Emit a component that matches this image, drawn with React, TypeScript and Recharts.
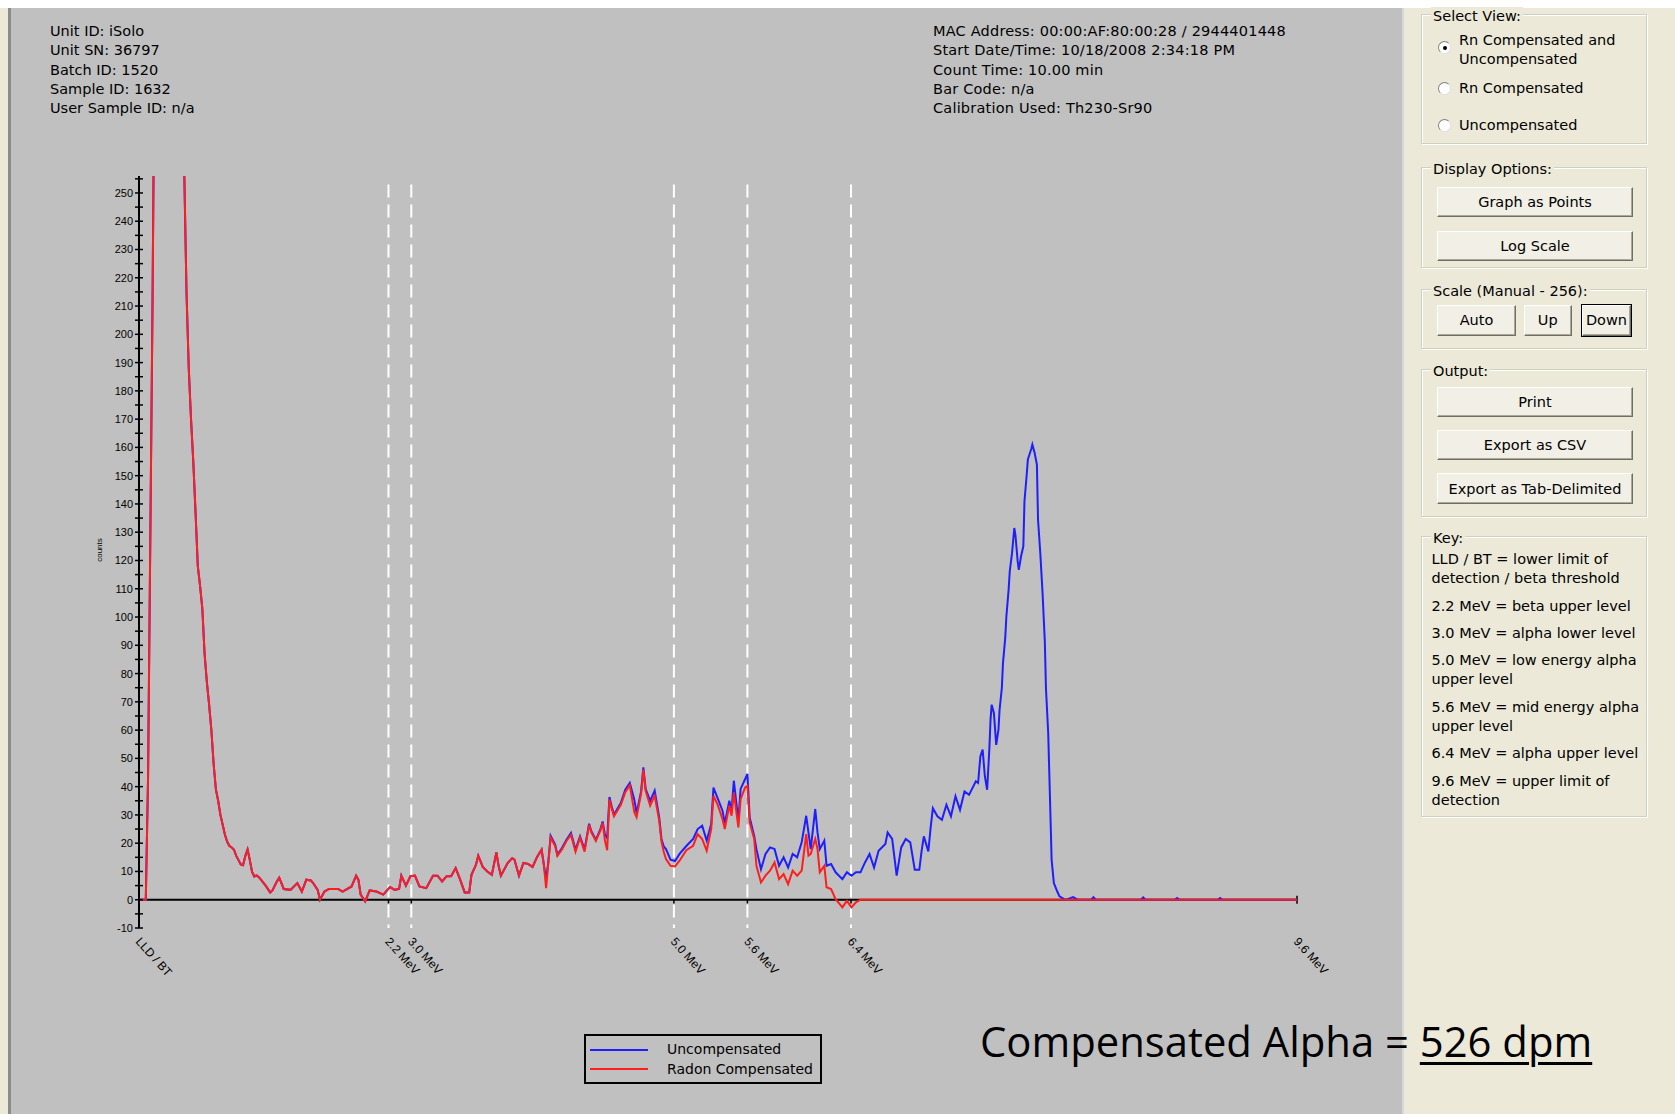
import React from "react";
import { LineChart, Line, XAxis, YAxis, ReferenceLine } from "recharts";

// channel axis: 0 = LLD / BT, 512 = 9.6 MeV
const channels = [
  0, 3, 4, 5, 6, 8, 12, 16, 19, 20, 21, 22, 23, 24, 25, 26, 27, 28, 29, 30,
  31, 32, 33, 34, 35, 36, 37, 38, 39, 40, 41, 42, 43, 44, 45, 46, 47, 48, 49, 50,
  51, 52, 53, 54, 56, 58, 59, 61, 62, 64, 67, 70, 72, 74, 76, 77, 79, 80, 82, 84,
  88, 90, 94, 96, 97, 98, 100, 102, 105, 108, 111, 113, 115, 116, 118, 120, 122, 124, 127, 130,
  132, 134, 136, 138, 140, 142, 144, 146, 147, 149, 150, 152, 154, 156, 158, 159, 160, 163, 165, 166,
  168, 170, 172, 174, 176, 178, 179, 180, 181, 182, 184, 185, 187, 189, 191, 193, 195, 197, 199, 200,
  202, 204, 205, 206, 207, 208, 209, 210, 213, 215, 217, 219, 220, 222, 223, 224, 226, 228, 230, 231,
  232, 233, 235, 237, 239, 242, 245, 247, 249, 251, 253, 254, 256, 258, 259, 261, 262, 263, 265, 266,
  268, 269, 270, 272, 273, 275, 277, 279, 281, 283, 285, 287, 289, 291, 293, 295, 296, 297, 299, 300,
  301, 303, 304, 306, 308, 311, 313, 315, 317, 319, 321, 323, 325, 327, 330, 331, 333, 335, 337, 339,
  341, 343, 345, 346, 347, 349, 350, 351, 353, 355, 357, 359, 361, 363, 365, 367, 370, 371, 372, 373,
  374, 375, 376, 376.5, 377, 378, 379, 380, 380.5, 381.5, 382, 383, 383.5, 384.5, 385, 386, 387, 387.5, 388.5, 389,
  390, 391, 391.5, 392.5, 393, 394.5, 395, 396, 397, 397.5, 398.5, 399.5, 400.5, 401, 402, 402.5, 403, 403.5, 404.5, 406,
  407, 409, 410, 413, 415, 421, 422, 423, 443, 444, 445, 458, 459, 460, 477, 478, 479, 512,
];

const uncompensated = [
  0, 0, 43, 128, 213, 420, 560, 470, 300, 258, 215, 188, 170, 155, 137, 118, 111, 103, 87, 77,
  69, 60, 48, 39, 35, 30, 26.5, 23, 20.5, 19, 18.5, 17.7, 15.5, 14, 12.5, 12.2, 15.5, 17.8, 14, 9.8,
  8.2, 8.6, 8, 7, 5, 2.6, 3.3, 6.5, 7.8, 3.8, 3.5, 5.9, 2.9, 7.1, 6.8, 5.9, 3.5, 0, 2.9, 3.8,
  3.8, 2.9, 4.7, 8.5, 7.1, 1.8, -0.6, 3.3, 2.9, 1.8, 4.5, 3.5, 3.8, 8.5, 5, 8.3, 8.5, 4.7, 4.1, 8.5,
  8.5, 6.5, 8.3, 8.3, 11.2, 7.1, 2.6, 2.6, 8.8, 12.4, 15.6, 11.6, 10, 8.8, 16.7, 12, 8.5, 13, 14.7, 14.2,
  8.5, 13, 12.7, 11.6, 15.1, 17.7, 12.4, 7, 13.6, 22.6, 19.5, 15.9, 18.3, 21.2, 23.6, 17.7, 22.4, 17.7, 26.9, 24.2,
  21.2, 25, 27.7, 23, 21.8, 36.3, 33, 30.1, 34.2, 38.9, 41.3, 35.4, 30.7, 38.3, 46.8, 39.2, 35, 38.6, 29.1, 21.5,
  18.9, 17.9, 14.2, 13.7, 16.2, 19, 21.5, 25, 26.2, 20.9, 26.8, 39.7, 35.6, 31.5, 27, 35, 31.5, 42.1, 27.9, 39.2,
  42.7, 44.5, 29.1, 22.6, 17.9, 10.8, 16.2, 18.5, 17.9, 12, 15, 11.4, 16.2, 15, 20.3, 29.7, 23.8, 17.9, 32.1, 23.8,
  17.9, 20.9, 12, 12.6, 9.7, 7.3, 9.7, 8.5, 9.7, 9.7, 13.2, 16.2, 11.4, 17.3, 19.7, 23.8, 21.5, 8.5, 18.5, 21.5,
  20.3, 10.6, 10.6, 17.1, 22.4, 17.1, 25.4, 32.4, 29.5, 28.3, 33.6, 29.5, 36.6, 31.8, 38.3, 37.1, 41.9, 41.3, 50.7, 53.1,
  43.6, 38.9, 53.7, 63.7, 69, 66, 54.8, 60.1, 67.2, 74.9, 83.7, 92.6, 100.2, 109.7, 116.2, 122.6, 131.5, 129.1, 119.7, 116.7,
  121.5, 125, 140.9, 150.4, 155.7, 159.4, 161, 158, 153.9, 134.4, 122.6, 108.5, 91.4, 74.9, 59, 44.2, 29.5, 14.2, 5.9, 2.9,
  1.2, 0.2, 0, 0.9, 0, 0, 0.9, 0, 0, 0.8, 0, 0, 0.6, 0, 0, 0.6, 0, 0,
];

const radonCompensated = [
  0, 0, 43, 128, 213, 420, 560, 470, 300, 258, 215, 188, 170, 155, 137, 118, 111, 103, 87, 77,
  69, 60, 48, 39, 35, 30, 26.5, 23, 20.5, 19, 18.5, 17.7, 15.5, 14, 12.5, 12.2, 15.5, 17.8, 14, 9.8,
  8.2, 8.6, 8, 7, 5, 2.6, 3.3, 6.5, 7.8, 3.8, 3.5, 5.9, 2.9, 7.1, 6.8, 5.9, 3.5, 0, 2.9, 3.8,
  3.8, 2.9, 4.7, 8.5, 7.1, 1.8, -0.6, 3.3, 2.9, 1.8, 4.5, 3.5, 3.8, 8.5, 5, 8.3, 8.5, 4.7, 4.1, 8.5,
  8.5, 6.5, 8.3, 8.3, 11.2, 7.1, 2.6, 2.6, 8.8, 12.4, 15.6, 11.6, 10, 8.8, 16.7, 12, 8.5, 13, 14.7, 14.2,
  8.5, 13, 12.7, 11.6, 15.1, 17.7, 12.4, 4.1, 13, 22, 19, 15.5, 17.8, 20.8, 23, 17, 22, 17, 26.5, 23.8,
  20.8, 24.5, 27.2, 21, 17.5, 35.5, 32.3, 29.5, 33.5, 38, 40.5, 31, 29.2, 37.5, 46, 38.5, 33.3, 36.8, 28, 20.6,
  17, 14.4, 12, 11.8, 13.8, 17.5, 19.1, 23.2, 21.5, 17.3, 25, 36.8, 33.3, 28.5, 25, 33.3, 29.7, 38, 25.6, 35.6,
  39.7, 40.3, 27.4, 21.5, 12, 6.1, 8.5, 10.3, 13.2, 7.3, 9.1, 5.5, 10.3, 8.5, 10.3, 23.2, 15.6, 16.2, 21.5, 17.9,
  9.7, 12, 4.4, 3.8, 0.2, -2.7, -0.4, -2.7, -0.9, 0, 0, 0, 0, 0, 0, 0, 0, 0, 0, 0,
  0, 0, 0, 0, 0, 0, 0, 0, 0, 0, 0, 0, 0, 0, 0, 0, 0, 0, 0, 0,
  0, 0, 0, 0, 0, 0, 0, 0, 0, 0, 0, 0, 0, 0, 0, 0, 0, 0, 0, 0,
  0, 0, 0, 0, 0, 0, 0, 0, 0, 0, 0, 0, 0, 0, 0, 0, 0, 0, 0, 0,
  0, 0, 0, 0, 0, 0, 0, 0, 0, 0, 0, 0, 0, 0, 0, 0, 0, 0,
];

// energy window markers (channel positions)
const markerChannels = [110.3, 120.4, 236.5, 269, 314.8];
const xTickChannels = [0, 110.3, 120.4, 236.5, 269, 314.8, 512];
const xTickLabels = ["LLD / BT", "2.2 MeV", "3.0 MeV", "5.0 MeV", "5.6 MeV", "6.4 MeV", "9.6 MeV"];
const yTicks = Array.from({ length: 54 }, (_, i) => -10 + i * 5);

const infoLeft = ["Unit ID: iSolo", "Unit SN: 36797", "Batch ID: 1520", "Sample ID: 1632", "User Sample ID: n/a"];
const infoRight = [
  "MAC Address: 00:00:AF:80:00:28 / 2944401448",
  "Start Date/Time: 10/18/2008 2:34:18 PM",
  "Count Time: 10.00 min",
  "Bar Code: n/a",
  "Calibration Used: Th230-Sr90",
];
const keyEntries = [
  ["LLD / BT = lower limit of", "detection / beta threshold"],
  ["2.2 MeV = beta upper level"],
  ["3.0 MeV = alpha lower level"],
  ["5.0 MeV = low energy alpha", "upper level"],
  ["5.6 MeV = mid energy alpha", "upper level"],
  ["6.4 MeV = alpha upper level"],
  ["9.6 MeV = upper limit of", "detection"],
];
const viewOptions = [["Rn Compensated and", "Uncompensated"], ["Rn Compensated"], ["Uncompensated"]];

const BLUE = "#1e1eff";
const RED = "#ff1e1e";
const GRAY = "#c0c0c0";
const BEIGE = "#ece9d8";
const UI_FONT = '"DejaVu Sans", Verdana, sans-serif';
const TICK_FONT = '"Liberation Sans", Arial, sans-serif';

const rows = channels.map((ch, i) => ({ ch, unc: uncompensated[i], comp: radonCompensated[i] }));

function YTick(props: any) {
  const { x, y, payload } = props;
  const v = payload.value;
  return (
    <g>
      <line x1={x - 4} x2={x + 4} y1={y} y2={y} stroke="#000" strokeWidth={1.5} />
      {v % 10 === 0 && (
        <text x={x - 6} y={y} dy="0.36em" textAnchor="end" fontSize={11} fontFamily={TICK_FONT} fill="#000">
          {v}
        </text>
      )}
    </g>
  );
}

function XTick(props: any) {
  const { x, y, payload } = props;
  const label = xTickLabels[xTickChannels.indexOf(payload.value)];
  const tx = x - 4;
  const ty = y + 14;
  return (
    <text x={tx} y={ty} transform={`rotate(48 ${tx} ${ty})`} fontSize={12} fontFamily={TICK_FONT} fill="#000">
      {label}
    </text>
  );
}

function GroupBox({ left, top, width, height, title }: any) {
  return (
    <div
      style={{
        position: "absolute",
        left,
        top,
        width,
        height,
        border: "1px solid #d0d0bf",
        boxShadow: "inset 1px 1px 0 #fff, 1px 1px 0 #fff",
        boxSizing: "border-box",
      }}
    >
      <span
        style={{
          position: "absolute",
          left: 9,
          top: -8,
          padding: "0 2px",
          background: BEIGE,
          lineHeight: "19px",
        }}
      >
        {title}
      </span>
    </div>
  );
}

function Button({ left, top, width, height, label, isDefault }: any) {
  return (
    <div
      style={{
        position: "absolute",
        left,
        top,
        width,
        height,
        boxSizing: "border-box",
        background: "#f1efe6",
        borderTop: "1px solid #fff",
        borderLeft: "1px solid #fff",
        borderRight: "1px solid #716f64",
        borderBottom: "1px solid #716f64",
        boxShadow: isDefault
          ? "0 0 0 1px #000, inset -1px -1px 0 #aca899"
          : "inset -1px -1px 0 #aca899",
        display: "flex",
        alignItems: "center",
        justifyContent: "center",
      }}
    >
      {label}
    </div>
  );
}

function Radio({ left, top, checked }: any) {
  return (
    <div
      style={{
        position: "absolute",
        left,
        top,
        width: 13,
        height: 13,
        borderRadius: "50%",
        background: "#fff",
        boxSizing: "border-box",
        borderTop: "1px solid #808080",
        borderLeft: "1px solid #808080",
        borderRight: "1px solid #e0e0e0",
        borderBottom: "1px solid #e0e0e0",
      }}
    >
      {checked && (
        <div style={{ position: "absolute", left: 3.5, top: 3.5, width: 4, height: 4, borderRadius: "50%", background: "#000" }} />
      )}
    </div>
  );
}

export default function App() {
  return (
    <div
      style={{
        position: "absolute",
        left: 0,
        top: 0,
        width: 1675,
        height: 1114,
        overflow: "hidden",
        background: "#fff",
        fontFamily: UI_FONT,
        fontSize: 14.5,
        color: "#000",
      }}
    >
      {/* window chrome */}
      <div style={{ position: "absolute", left: 0, top: 8, width: 8, height: 1106, background: BEIGE }} />
      <div style={{ position: "absolute", left: 8, top: 8, width: 3, height: 1106, background: "#8c8c8c" }} />
      <div style={{ position: "absolute", left: 11, top: 8, width: 1391, height: 1106, background: GRAY }} />
      <div style={{ position: "absolute", left: 1402, top: 8, width: 2, height: 1106, background: "#d8d8d8" }} />
      <div style={{ position: "absolute", left: 1404, top: 8, width: 271, height: 1106, background: BEIGE }} />

      {/* header info */}
      {infoLeft.map((t, i) => (
        <div key={t} style={{ position: "absolute", left: 50, top: 22 + i * 19.3, lineHeight: "19px", whiteSpace: "nowrap" }}>
          {t}
        </div>
      ))}
      {infoRight.map((t, i) => (
        <div
          key={t}
          style={{ position: "absolute", left: 933, top: 22 + i * 19.3, lineHeight: "19px", whiteSpace: "nowrap", letterSpacing: 0.2 }}
        >
          {t}
        </div>
      ))}

      {/* spectrum */}
      <div style={{ position: "absolute", left: 0, top: 0 }}>
        <LineChart width={1402} height={1114} data={rows} margin={{ top: 176, right: 105, bottom: 156, left: 99 }}>
          <XAxis
            dataKey="ch"
            type="number"
            domain={[0, 512]}
            ticks={xTickChannels}
            interval={0}
            tick={<XTick />}
            tickLine={false}
            axisLine={false}
            tickSize={0}
            tickMargin={0}
            height={30}
            allowDataOverflow
          />
          <YAxis
            type="number"
            domain={[-10, 256]}
            ticks={yTicks}
            interval={0}
            tick={<YTick />}
            tickLine={false}
            tickSize={0}
            tickMargin={0}
            axisLine={{ stroke: "#000", strokeWidth: 2 }}
            width={40}
            allowDataOverflow
          />
          {markerChannels.map((m) => (
            <ReferenceLine
              key={m}
              segment={[{ x: m, y: 253 }, { x: m, y: -10 }]}
              stroke="#fff"
              strokeWidth={2}
              strokeDasharray="13 7"
            />
          ))}
          <ReferenceLine segment={[{ x: 0, y: 0 }, { x: 512, y: 0 }]} stroke="#000" strokeWidth={2} />
          <ReferenceLine segment={[{ x: 512, y: 1.4 }, { x: 512, y: -1.4 }]} stroke="#000" strokeWidth={1.5} />
          {markerChannels.map((m) => (
            <ReferenceLine key={`t${m}`} segment={[{ x: m, y: 0 }, { x: m, y: -1.3 }]} stroke="#000" strokeWidth={1.5} />
          ))}
          <Line
            dataKey="unc"
            name="Uncompensated"
            type="linear"
            stroke={BLUE}
            strokeWidth={2}
            dot={false}
            isAnimationActive={false}
          />
          <Line
            dataKey="comp"
            name="Radon Compensated"
            type="linear"
            stroke={RED}
            strokeWidth={2}
            dot={false}
            isAnimationActive={false}
          />
        </LineChart>
      </div>

      {/* y axis title */}
      <svg style={{ position: "absolute", left: 0, top: 0 }} width={200} height={1114}>
        <text x={99} y={550} transform="rotate(-90 99 550)" textAnchor="middle" dy="0.35em" fontSize={8} fontFamily={TICK_FONT}>
          counts
        </text>
      </svg>

      {/* legend */}
      <div
        style={{
          position: "absolute",
          left: 584,
          top: 1034,
          width: 238,
          height: 50,
          border: "2px solid #000",
          boxSizing: "border-box",
          fontSize: 14,
        }}
      >
        {[
          { name: "Uncompensated", color: BLUE },
          { name: "Radon Compensated", color: RED },
        ].map((s, i) => (
          <div key={s.name} style={{ position: "absolute", left: 0, top: 4 + i * 19.5, height: 19, width: 236 }}>
            <div style={{ position: "absolute", left: 4, top: 8.5, width: 58, height: 2, background: s.color }} />
            <div style={{ position: "absolute", left: 81, top: 0, lineHeight: "19px", whiteSpace: "nowrap" }}>{s.name}</div>
          </div>
        ))}
      </div>

      {/* side panel */}
      <GroupBox left={1421} top={14} width={226} height={130} title="Select View:" />
      {viewOptions.map((lines, i) => {
        const tops = [31, 79, 115.5];
        return (
          <div key={i}>
            <Radio left={1438} top={[41, 82, 118.5][i]} checked={i === 0} />
            <div style={{ position: "absolute", left: 1459, top: tops[i], lineHeight: "19.3px", whiteSpace: "nowrap" }}>
              {lines.map((l) => (
                <div key={l}>{l}</div>
              ))}
            </div>
          </div>
        );
      })}

      <GroupBox left={1421} top={166.5} width={226} height={101} title="Display Options:" />
      <Button left={1437} top={187} width={196} height={30} label="Graph as Points" />
      <Button left={1437} top={230.5} width={196} height={30.5} label="Log Scale" />

      <GroupBox left={1421} top={289} width={226} height={60} title="Scale (Manual - 256):" />
      <Button left={1437} top={304.5} width={79} height={31} label="Auto" />
      <Button left={1523.5} top={304.5} width={48.5} height={31} label="Up" />
      <Button left={1582} top={304.5} width={49} height={31} label="Down" isDefault />

      <GroupBox left={1421} top={368.5} width={226} height={148} title="Output:" />
      <Button left={1437} top={386.7} width={196} height={30} label="Print" />
      <Button left={1437} top={430} width={196} height={30} label="Export as CSV" />
      <Button left={1437} top={473.3} width={196} height={30.5} label="Export as Tab-Delimited" />

      <GroupBox left={1421} top={536} width={226} height={281} title="Key:" />
      <div style={{ position: "absolute", left: 1431.5, top: 550, lineHeight: "19.3px", whiteSpace: "nowrap" }}>
        {keyEntries.map((lines, i) => (
          <div key={i} style={{ marginBottom: 8 }}>
            {lines.map((l) => (
              <div key={l}>{l}</div>
            ))}
          </div>
        ))}
      </div>

      {/* slide annotation */}
      <div
        style={{
          position: "absolute",
          left: 980,
          top: 1019.6,
          fontFamily: '"Open Sans", "Noto Sans", sans-serif',
          fontSize: 41.8,
          lineHeight: "41.8px",
          whiteSpace: "nowrap",
          color: "#000",
        }}
      >
        Compensated Alpha ={" "}
        <span style={{ textDecoration: "underline", textDecorationThickness: "3.3px", textUnderlineOffset: "4.5px" }}>
          526 dpm
        </span>
      </div>
    </div>
  );
}
